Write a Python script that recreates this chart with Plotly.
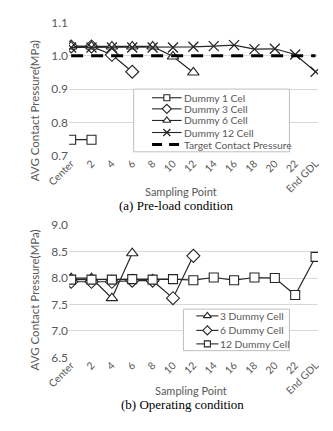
import plotly.graph_objects as go

categories = ["Center", "2", "4", "6", "8", "10", "12", "14", "16", "18", "20", "22", "End GDL"]

# (a) Pre-load condition
pre_dummy1 = [0.748, 0.748]
pre_dummy3 = [1.028, 1.028, 1.003, 0.952]
pre_dummy6 = [1.028, 1.028, 1.028, 1.028, 1.028, 0.998, 0.950]
pre_dummy12 = [1.025, 1.025, 1.025, 1.025, 1.025, 1.025, 1.027, 1.029, 1.032, 1.020, 1.021, 1.004, 0.952]
pre_target = [1.0] * 13

# (b) Operating condition
op_dummy3 = [8.00, 8.00, 7.62, 8.47]
op_dummy6 = [7.93, 7.93, 7.93, 7.95, 7.95, 7.62, 8.42]
op_dummy12 = [7.97, 7.97, 7.97, 7.98, 7.97, 7.98, 7.96, 8.01, 7.96, 8.01, 8.00, 7.68, 8.40]

pre_names = ["Dummy 1 Cel", "Dummy 3 Cell", "Dummy 6 Cell", "Dummy 12 Cell", "Target Contact Pressure"]
op_names = ["3 Dummy Cell", "6 Dummy Cell", "12 Dummy Cell"]

LINE = "#262626"
GRAY = "#595959"
FONT = "Lato"
W, H = 333, 431

SYM = {"square": 9, "diamond": 10, "triangle-up": 10, "x-thin": 10}


def marker(symbol, size=None):
    size = size or SYM[symbol]
    if symbol == "x-thin":
        return dict(symbol="x-thin", size=size, line=dict(color=LINE, width=1.3))
    return dict(symbol=symbol, size=size, color="white", line=dict(color=LINE, width=1.1))


fig = go.Figure()


def add(vals, name, symbol, xa, ya):
    fig.add_trace(go.Scatter(
        x=categories[:len(vals)], y=vals, name=name, mode="lines+markers",
        line=dict(color=LINE, width=1.2), marker=marker(symbol),
        xaxis=xa, yaxis=ya, showlegend=False, hoverinfo="skip"))


pre_syms = ["square", "diamond", "triangle-up", "x-thin"]
add(pre_dummy1, pre_names[0], pre_syms[0], "x", "y")
add(pre_dummy3, pre_names[1], pre_syms[1], "x", "y")
add(pre_dummy6, pre_names[2], pre_syms[2], "x", "y")
add(pre_dummy12, pre_names[3], pre_syms[3], "x", "y")
fig.add_trace(go.Scatter(
    x=categories, y=pre_target, name=pre_names[4], mode="lines",
    line=dict(color="black", width=3, dash="12px,8px"),
    xaxis="x", yaxis="y", showlegend=False, hoverinfo="skip"))

op_syms = ["triangle-up", "diamond", "square"]
add(op_dummy3, op_names[0], op_syms[0], "x2", "y2")
add(op_dummy6, op_names[1], op_syms[1], "x2", "y2")
add(op_dummy12, op_names[2], op_syms[2], "x2", "y2")

# ---- legends drawn on a pixel-coordinate overlay axis (x3/y3) ----
annotations = []


def legend_box(x0, y0, x1, y1):
    fig.add_trace(go.Scatter(
        x=[x0, x1, x1, x0, x0], y=[y0, y0, y1, y1, y0], mode="lines", fill="toself",
        fillcolor="white", line=dict(color="#bfbfbf", width=1),
        xaxis="x3", yaxis="y3", showlegend=False, hoverinfo="skip"))


def legend_item(lx0, lx1, y, name, symbol=None, dashed=False, tx=None):
    if dashed:
        fig.add_trace(go.Scatter(
            x=[lx0, lx1], y=[y, y], mode="lines",
            line=dict(color="black", width=3, dash="10px,7px"),
            xaxis="x3", yaxis="y3", showlegend=False, hoverinfo="skip"))
    else:
        fig.add_trace(go.Scatter(
            x=[lx0, lx1], y=[y, y], mode="lines", line=dict(color=LINE, width=1.1),
            xaxis="x3", yaxis="y3", showlegend=False, hoverinfo="skip"))
        fig.add_trace(go.Scatter(
            x=[(lx0 + lx1) / 2], y=[y], mode="markers",
            marker=marker(symbol, SYM[symbol] - 3),
            xaxis="x3", yaxis="y3", showlegend=False, hoverinfo="skip"))
    annotations.append(dict(text=name, x=tx / W, y=1 - y / H, xanchor="left", yanchor="middle",
                            xref="paper", yref="paper", showarrow=False, borderpad=0,
                            font=dict(family=FONT, size=10.3, color=GRAY)))


legend_box(120, 84, 289, 149)
for i, yy in enumerate([93, 104.5, 116.5, 129, 141.5]):
    if i < 4:
        legend_item(140, 172, yy, pre_names[i], pre_syms[i], tx=174)
    else:
        legend_item(140, 171, yy, pre_names[i], dashed=True, tx=174)

legend_box(174, 312, 289, 355)
for i, yy in enumerate([319, 334, 348]):
    legend_item(188, 212, yy, op_names[i], op_syms[i], tx=213)

xdom = [50 / W, 320 / W]
xcommon = dict(domain=xdom, type="category", categoryorder="array", categoryarray=categories,
               range=[-0.1, 12.12], tickangle=-45, showgrid=False, zeroline=False,
               showline=False, ticks="", ticklabelstandoff=-1,
               tickfont=dict(family=FONT, size=10.3, color=GRAY))
ycommon = dict(showgrid=True, gridcolor="#d9d9d9", gridwidth=1, zeroline=False,
               showline=False, ticks="", tickfont=dict(family=FONT, size=12, color=GRAY))

fig.update_layout(
    width=W, height=H, margin=dict(l=0, r=0, t=0, b=0),
    plot_bgcolor="rgba(0,0,0,0)", paper_bgcolor="white",
    xaxis=dict(anchor="y", **xcommon),
    yaxis=dict(domain=[1 - 153 / H, 1 - 15 / H], range=[0.7, 1.1], dtick=0.1,
               tickformat=".1f", anchor="x", **ycommon),
    xaxis2=dict(anchor="y2", **xcommon),
    yaxis2=dict(domain=[1 - 362 / H, 1 - 225 / H], range=[6.5, 9.0], dtick=0.5,
                tickformat=".1f", anchor="x2", **ycommon),
    xaxis3=dict(domain=[0, 1], range=[0, W], visible=False, anchor="y3", fixedrange=True),
    yaxis3=dict(domain=[0, 1], range=[H, 0], visible=False, anchor="x3", fixedrange=True),
    showlegend=False,
)

annotations += [
    dict(text="AVG Contact Pressure(MPa)", x=12 / W, y=1 - 107 / H, textangle=-90,
         font=dict(family=FONT, size=11.5, color=GRAY)),
    dict(text="AVG Contact Pressure(MPa)", x=12 / W, y=1 - 303 / H, textangle=-90,
         font=dict(family=FONT, size=11.5, color=GRAY)),
    dict(text="Sampling Point", x=171 / W, y=1 - 190 / H,
         font=dict(family=FONT, size=11, color=GRAY)),
    dict(text="Sampling Point", x=182 / W, y=1 - 396 / H,
         font=dict(family=FONT, size=11, color=GRAY)),
    dict(text="(a) Pre-load condition", x=167 / W, y=1 - 205 / H,
         font=dict(family="Liberation Serif", size=13, color="black")),
    dict(text="(b) Operating condition", x=173 / W, y=1 - 410.5 / H,
         font=dict(family="Liberation Serif", size=13, color="black")),
]
for a in annotations[-6:]:
    a.update(xref="paper", yref="paper", showarrow=False, xanchor="center", yanchor="middle")
fig.update_layout(annotations=annotations)

fig.write_html("out.html")
